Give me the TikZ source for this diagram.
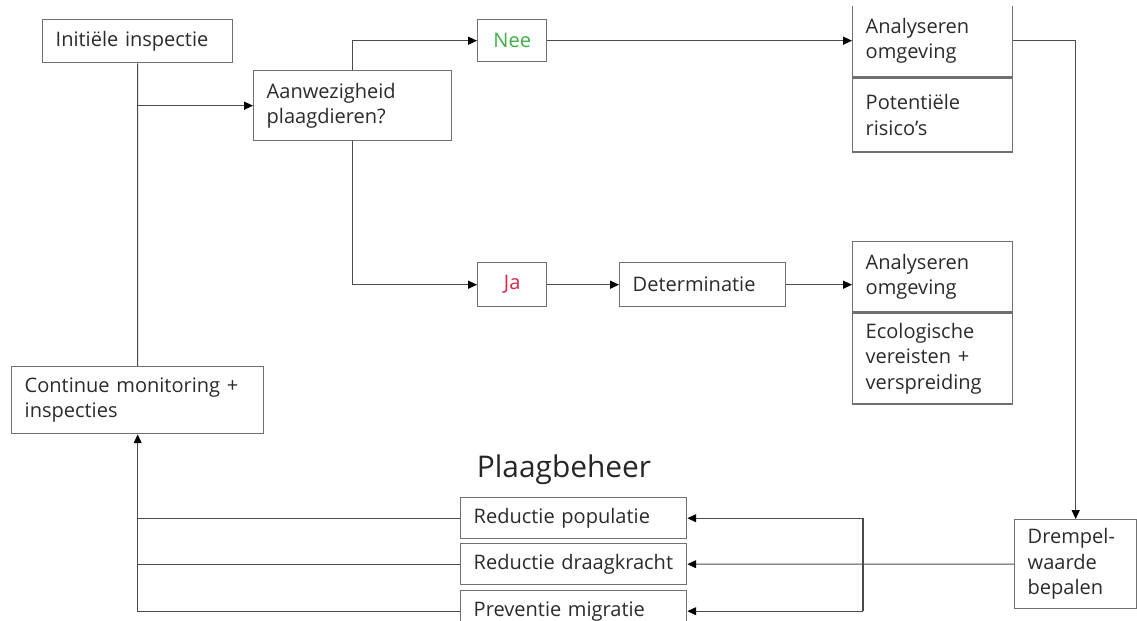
\documentclass[tikz,border=0pt]{standalone}
\usepackage{fontspec}
\setmainfont{Open Sans}
\usepackage{tikz}
\usetikzlibrary{arrows.meta}

\definecolor{linegray}{HTML}{4A4A4A}
\definecolor{boxgray}{HTML}{707070}
\definecolor{txtgray}{HTML}{2B2B2B}
\definecolor{neegreen}{HTML}{3DAE49}
\definecolor{jared}{HTML}{D9254A}

\tikzset{
  box/.style={draw=boxgray, line width=0.8pt, anchor=north west, align=left,
    inner xsep=0.26cm, inner ysep=0pt, text=txtgray,
    font=\fontsize{11.4}{14.5}\selectfont},
  link/.style={draw=linegray, line width=0.6pt},
  tip/.style={link, -{Triangle[length=5pt,width=4.5pt,color=black]}},
}

\begin{document}
\begin{tikzpicture}[x=0.02cm, y=-0.02cm]
                \useasboundingbox (0,0) rectangle (1137,621);
                \clip (0,7) rectangle (1137,621);

                \node[box, text width=3.28cm, minimum height=0.86cm] (init) at (42,19) {Initiële inspectie};
                \node[box, text width=3.44cm, minimum height=1.4cm] (aanw) at (253,70) {Aanwezigheid\\plaagdieren?};
                \node[box, text width=0.86cm, minimum height=0.84cm, align=center, text=neegreen] (nee) at (477,19) {Nee};
                \node[box, text width=0.86cm, minimum height=0.88cm, align=center, text=jared] (ja) at (477,262) {Ja};
                \node[box, text width=2.8cm, minimum height=0.88cm] (det) at (619,262) {Determinatie};

                \node[box, text width=2.68cm, minimum height=1.44cm] (anaA) at (852,4) {Analyseren\\omgeving};
                \node[box, text width=2.68cm, minimum height=1.48cm] (risk) at (anaA.south west) {Potentiële\\risico’s};
                \node[box, text width=2.68cm, minimum height=1.4cm] (anaB) at (852,241) {Analyseren\\omgeving};
                \node[box, text width=2.68cm, minimum height=1.82cm] (eco) at (anaB.south west) {Ecologische\\vereisten +\\verspreiding};

                \node[box, text width=4.52cm, minimum height=1.34cm] (cont) at (11,366) {Continue monitoring +\\inspecties};
                \node[box, text width=1.92cm, minimum height=1.78cm] (drem) at (1014,519) {Drempel-\\waarde\\bepalen};

                \node[font=\fontsize{17}{20}\selectfont, text=black!85] (title) at (564,470) {Plaagbeheer};
                \node[box, text width=4.0cm, minimum height=0.82cm] (pop) at (460,497) {Reductie populatie};
                \node[box, text width=4.0cm, minimum height=0.82cm] (dra) at (460,543) {Reductie draagkracht};
                \node[box, text width=4.0cm, minimum height=0.82cm] (mig) at (460,590) {Preventie migratie};

                \draw[link] (init.south) -- (cont.north);
                \draw[tip] (init.south |- aanw.west) -- (aanw.west);
                \draw[tip] (aanw.north) |- (nee.west);
                \draw[tip] (nee.east) -- (nee.east -| anaA.west);
                \draw[tip] (anaA.east) -| (drem.north);
                \draw[tip] (aanw.south) |- (ja.west);
                \draw[tip] (ja.east) -- (det.west);
                \draw[tip] (det.east) -- (det.east -| anaB.west);

                \draw[tip] (drem.west) -- (dra.east);
                \coordinate (fork) at (863,0);
                \draw[link] (fork |- pop.east) -- (fork |- mig.east);
                \draw[tip] (fork |- pop.east) -- (pop.east);
                \draw[tip] (fork |- mig.east) -- (mig.east);

                \draw[link] (pop.west) -- (cont.south |- pop.west);
                \draw[link] (dra.west) -- (cont.south |- dra.west);
                \draw[tip] (mig.west) -- (cont.south |- mig.west) -- (cont.south);
\end{tikzpicture}
\end{document}
